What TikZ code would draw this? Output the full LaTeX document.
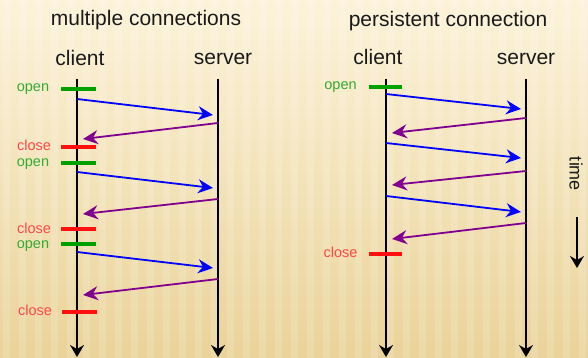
\documentclass[tikz,border=0pt]{standalone}
\usepackage{fontspec}
\setmainfont{Liberation Sans}
\usetikzlibrary{arrows.meta}
\definecolor{bgtop}{HTML}{FCF3DA}
\definecolor{bgbot}{HTML}{EAD399}
\definecolor{reqblue}{HTML}{0000FF}
\definecolor{respurple}{HTML}{800090}
\definecolor{opengreen}{HTML}{00A000}
\definecolor{closered}{HTML}{FF1010}
\definecolor{opentext}{HTML}{33AA33}
\definecolor{closetext}{HTML}{FF4848}
\definecolor{inktext}{HTML}{1A1A1A}
\begin{document}
\begin{tikzpicture}[x=1pt,y=-1pt,
  titletext/.style={font=\fontsize{21}{21}\selectfont, text=inktext, inner sep=0pt, anchor=base},
  smalltext/.style={font=\fontsize{14.5}{14.5}\selectfont, inner sep=0pt, anchor=base},
  opentxt/.style={smalltext, text=opentext},
  closetxt/.style={smalltext, text=closetext},
  timeline/.style={draw=black, line width=1.6pt, -{Stealth[length=12pt,width=14pt,inset=4pt]}},
  req/.style={draw=reqblue, line width=1.8pt, -{Stealth[length=15pt,width=14pt,inset=5pt]}},
  resp/.style={draw=respurple, line width=1.8pt, -{Stealth[length=15pt,width=14pt,inset=5pt]}},
  openbar/.style={draw=opengreen, line width=3.2pt},
  closebar/.style={draw=closered, line width=3.2pt}]
\useasboundingbox (0,0) rectangle (588,358);
\shade[top color=bgtop, bottom color=bgbot] (0,0) rectangle (588,358);
\foreach \i in {0,...,36} \fill[white, opacity=0.15] (\i*16+3,0) rectangle ++(7,358);

% ---------------- left panel ----------------
\node[titletext] (t1) at (146,26) {multiple connections};
\node[titletext] (c1) at (80,66) {client};
\node[titletext] (s1) at (223,65) {server};
\coordinate (c1top) at (77,79);  \coordinate (c1bot) at (77,357);
\coordinate (s1top) at (218,79); \coordinate (s1bot) at (218,357);
\draw[timeline] (c1top) -- (c1bot);
\draw[timeline] (s1top) -- (s1bot);

% bars
\coordinate (o1a) at (61,89);  \coordinate (o1b) at (96,89);
\coordinate (x1a) at (61,147); \coordinate (x1b) at (96,147);
\coordinate (o2a) at (61,163); \coordinate (o2b) at (96,163);
\coordinate (x2a) at (61,229); \coordinate (x2b) at (96,229);
\coordinate (o3a) at (61,244); \coordinate (o3b) at (96,244);
\coordinate (x3a) at (62,312); \coordinate (x3b) at (97,312);
\draw[openbar] (o1a) -- (o1b);
\draw[closebar] (x1a) -- (x1b);
\draw[openbar] (o2a) -- (o2b);
\draw[closebar] (x2a) -- (x2b);
\draw[openbar] (o3a) -- (o3b);
\draw[closebar] (x3a) -- (x3b);
\node[opentxt] (lo1) at (33,92) {open};
\node[closetxt] (lx1) at (34,150) {close};
\node[opentxt] (lo2) at (33,166) {open};
\node[closetxt] (lx2) at (34,233) {close};
\node[opentxt] (lo3) at (33,248) {open};
\node[closetxt] (lx3) at (35,315) {close};

% messages
\coordinate (r1a) at (77,99);  \coordinate (r1b) at (213,115);
\coordinate (p1a) at (218,123); \coordinate (p1b) at (83,139);
\coordinate (r2a) at (77,172); \coordinate (r2b) at (213,188);
\coordinate (p2a) at (218,199); \coordinate (p2b) at (83,214);
\coordinate (r3a) at (77,252); \coordinate (r3b) at (213,268);
\coordinate (p3a) at (218,279); \coordinate (p3b) at (83,295);
\draw[req] (r1a) -- (r1b);
\draw[resp] (p1a) -- (p1b);
\draw[req] (r2a) -- (r2b);
\draw[resp] (p2a) -- (p2b);
\draw[req] (r3a) -- (r3b);
\draw[resp] (p3a) -- (p3b);

% ---------------- right panel ----------------
\node[titletext] (t2) at (448,27) {persistent connection};
\node[titletext] (c2) at (378,65) {client};
\node[titletext] (s2) at (526,65) {server};
\coordinate (c2top) at (386,79);  \coordinate (c2bot) at (386,357);
\coordinate (s2top) at (526,79);  \coordinate (s2bot) at (526,357);
\draw[timeline] (c2top) -- (c2bot);
\draw[timeline] (s2top) -- (s2bot);

\coordinate (o4a) at (369,87);  \coordinate (o4b) at (402,87);
\coordinate (x4a) at (369,254); \coordinate (x4b) at (402,254);
\draw[openbar] (o4a) -- (o4b);
\draw[closebar] (x4a) -- (x4b);
\node[opentxt] (lo4) at (340.5,90) {open};
\node[closetxt] (lx4) at (340.5,257) {close};

\coordinate (r4a) at (386,94);  \coordinate (r4b) at (521,109);
\coordinate (p4a) at (526,118); \coordinate (p4b) at (392,133);
\coordinate (r5a) at (386,143); \coordinate (r5b) at (521,158);
\coordinate (p5a) at (526,171); \coordinate (p5b) at (392,185);
\coordinate (r6a) at (386,196); \coordinate (r6b) at (521,212);
\coordinate (p6a) at (526,223); \coordinate (p6b) at (392,239);
\draw[req] (r4a) -- (r4b);
\draw[resp] (p4a) -- (p4b);
\draw[req] (r5a) -- (r5b);
\draw[resp] (p5a) -- (p5b);
\draw[req] (r6a) -- (r6b);
\draw[resp] (p6a) -- (p6b);

% time
\node[font=\fontsize{18}{18}\selectfont, text=inktext, rotate=-90] (tm) at (576,174) {time};
\coordinate (ta) at (577,217); \coordinate (tb) at (577,268);
\draw[timeline] (ta) -- (tb);
\end{tikzpicture}
\end{document}
